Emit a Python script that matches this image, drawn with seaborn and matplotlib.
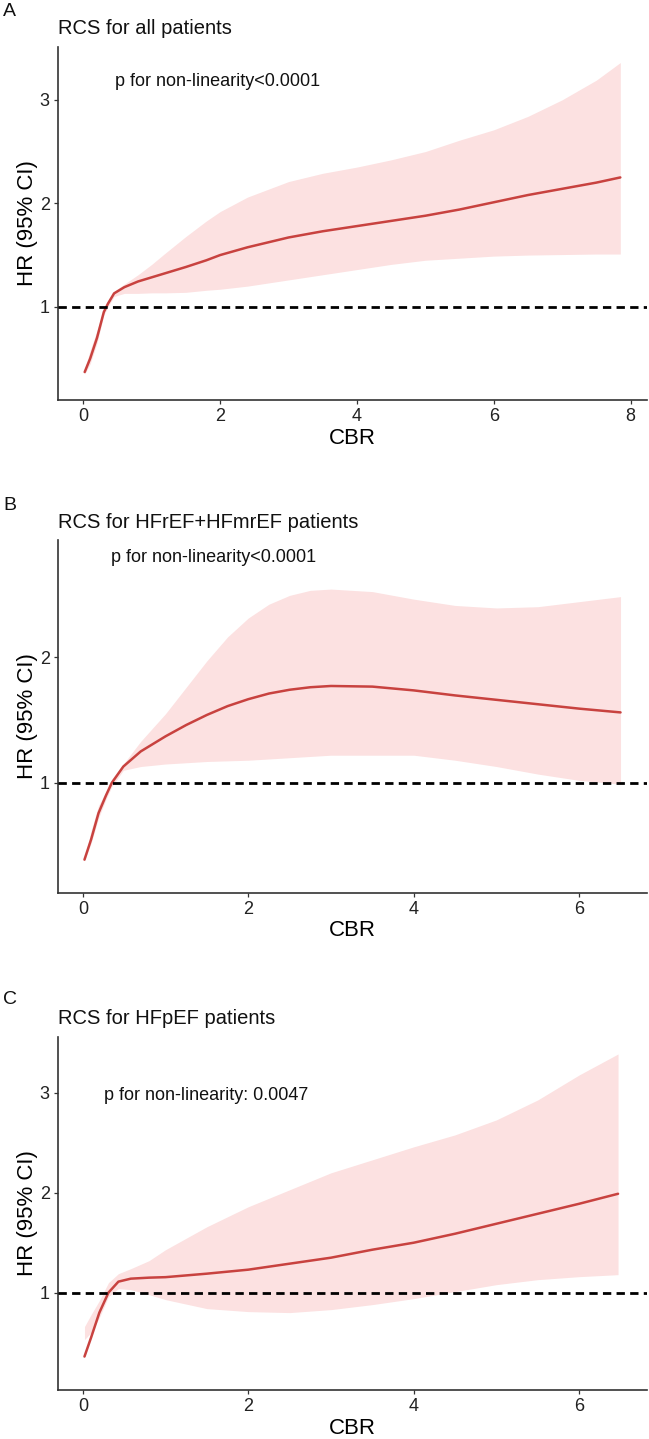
import numpy as np
import pandas as pd
import matplotlib
matplotlib.use("Agg")
import matplotlib.pyplot as plt
import seaborn as sns

sns.set_theme(style="ticks")
plt.rcParams["font.family"] = ["Liberation Sans", "DejaVu Sans"]

# ---------------- data ----------------
panel_letters = ["A", "B", "C"]
panel_titles = ["RCS for all patients", "RCS for HFrEF+HFmrEF patients", "RCS for HFpEF patients"]
p_texts = ["p for non-linearity<0.0001", "p for non-linearity<0.0001", "p for non-linearity: 0.0047"]

cbr_a = [0.02, 0.1, 0.2, 0.3, 0.36, 0.45, 0.6, 0.8, 1.0, 1.2, 1.5, 1.8, 2.0, 2.4, 3.0, 3.5,
         4.0, 4.5, 5.0, 5.5, 6.0, 6.5, 7.0, 7.5, 7.85]
hr_a = [0.37, 0.50, 0.70, 0.95, 1.03, 1.13, 1.19, 1.245, 1.285, 1.325, 1.385, 1.45, 1.50, 1.575, 1.67, 1.73,
        1.78, 1.83, 1.88, 1.94, 2.01, 2.08, 2.14, 2.20, 2.25]
upper_a = [0.40, 0.58, 0.77, 0.98, 1.06, 1.15, 1.22, 1.31, 1.41, 1.52, 1.68, 1.83, 1.92, 2.06, 2.21, 2.29,
           2.35, 2.42, 2.50, 2.61, 2.71, 2.84, 3.00, 3.19, 3.36]
lower_a = [0.35, 0.45, 0.65, 0.92, 1.00, 1.10, 1.13, 1.13, 1.135, 1.135, 1.14, 1.16, 1.17, 1.20, 1.26, 1.31,
           1.36, 1.41, 1.45, 1.47, 1.49, 1.50, 1.505, 1.51, 1.51]

cbr_b = [0.02, 0.1, 0.19, 0.28, 0.35, 0.49, 0.7, 1.0, 1.25, 1.5, 1.75, 2.0, 2.25, 2.5, 2.75, 3.0,
         3.5, 4.0, 4.5, 5.0, 5.5, 6.0, 6.5]
hr_b = [0.39, 0.55, 0.76, 0.90, 1.00, 1.13, 1.25, 1.37, 1.46, 1.54, 1.61, 1.665, 1.71, 1.74, 1.76, 1.77,
        1.765, 1.735, 1.695, 1.66, 1.625, 1.59, 1.56]
upper_b = [0.40, 0.62, 0.82, 0.93, 1.03, 1.15, 1.33, 1.55, 1.76, 1.97, 2.16, 2.31, 2.42, 2.49, 2.53, 2.54,
           2.52, 2.46, 2.41, 2.39, 2.40, 2.44, 2.48]
lower_b = [0.38, 0.52, 0.72, 0.87, 0.97, 1.10, 1.13, 1.15, 1.16, 1.17, 1.175, 1.18, 1.19, 1.20, 1.21, 1.22,
           1.22, 1.22, 1.18, 1.13, 1.07, 1.02, 0.99]

cbr_c = [0.02, 0.1, 0.2, 0.31, 0.43, 0.58, 0.8, 1.0, 1.5, 2.0, 2.5, 3.0, 3.5, 4.0, 4.5, 5.0, 5.5, 6.0, 6.47]
hr_c = [0.36, 0.55, 0.80, 1.00, 1.11, 1.14, 1.15, 1.155, 1.19, 1.23, 1.29, 1.35, 1.43, 1.50, 1.59, 1.69,
        1.79, 1.89, 1.99]
upper_c = [0.66, 0.78, 0.92, 1.10, 1.19, 1.24, 1.32, 1.43, 1.66, 1.86, 2.03, 2.20, 2.33, 2.46, 2.58, 2.73,
           2.93, 3.18, 3.39]
lower_c = [0.53, 0.60, 0.75, 0.96, 1.04, 1.03, 0.98, 0.93, 0.84, 0.81, 0.80, 0.83, 0.88, 0.94, 1.01, 1.08,
           1.13, 1.16, 1.18]

x_ticks = [[0, 2, 4, 6, 8], [0, 2, 4, 6], [0, 2, 4, 6]]
y_ticks = [[1, 2, 3], [1, 2], [1, 2, 3]]
x_label = "CBR"
y_label = "HR (95% CI)"
ref_hr = 1

panels = [
    (cbr_a, hr_a, lower_a, upper_a),
    (cbr_b, hr_b, lower_b, upper_b),
    (cbr_c, hr_c, lower_c, upper_c),
]

# ---------------- layout / style ----------------
W, H = 649, 1439
fig = plt.figure(figsize=(W / 100, H / 100), dpi=100)

ax_left_px, ax_right_px = 58, 647
ax_tops = [47, 540, 1037]
ax_bottoms = [400, 893, 1390]
xlims = [(-0.37, 8.24), (-0.30, 6.82), (-0.30, 6.82)]
ylims = [(0.10, 3.51), (0.125, 2.93), (0.025, 3.56)]
ptext_pos = [(0.47, 3.18), (0.34, 2.79), (0.26, 2.97)]
letter_y = [12, 505, 1000]
title_y = [28, 522, 1018]

line_col = "#C8423F"
band_col = "#FCE1E1"
axis_col = "#333333"

for i, (x, hr, lo, up) in enumerate(panels):
    top, bot = ax_tops[i], ax_bottoms[i]
    ax = fig.add_axes([ax_left_px / W, 1 - bot / H, (ax_right_px - ax_left_px) / W, (bot - top) / H])
    df = pd.DataFrame({"CBR": x, "HR": hr, "lower": lo, "upper": up})

    ax.fill_between(df["CBR"], df["lower"], df["upper"], color=band_col, linewidth=0, zorder=1)
    sns.lineplot(data=df, x="CBR", y="HR", ax=ax, color=line_col, linewidth=1.8, zorder=3)
    ax.axhline(ref_hr, color="black", linestyle=(0, (3, 1.9)), linewidth=2.0, zorder=4)

    ax.set_xlim(*xlims[i])
    ax.set_ylim(*ylims[i])
    ax.set_xticks(x_ticks[i])
    ax.set_yticks(y_ticks[i])
    sns.despine(ax=ax)
    for s in ["left", "bottom"]:
        ax.spines[s].set_color(axis_col)
        ax.spines[s].set_linewidth(1.2)
    ax.tick_params(axis="both", length=3, width=0.9, color=axis_col, labelcolor="#222222",
                   labelsize=13, pad=3)

    ax.set_xlabel(x_label, fontsize=16, color="black", va="center")
    ax.xaxis.set_label_coords(0.5, -38 / (bot - top))
    ax.set_ylabel(y_label, fontsize=16, color="black", va="center")
    ax.yaxis.set_label_coords(-30 / (ax_right_px - ax_left_px), 0.5)

    ax.text(ptext_pos[i][0], ptext_pos[i][1], p_texts[i], fontsize=13, color="#111111",
            ha="left", va="center")

    fig.text(ax_left_px / W, 1 - title_y[i] / H, panel_titles[i], fontsize=14.5, color="#111111",
             ha="left", va="center")
    fig.text(3 / W, 1 - letter_y[i] / H, panel_letters[i], fontsize=14, color="#111111",
             ha="left", va="center")

fig.savefig("out.png", dpi=100, facecolor="white")
